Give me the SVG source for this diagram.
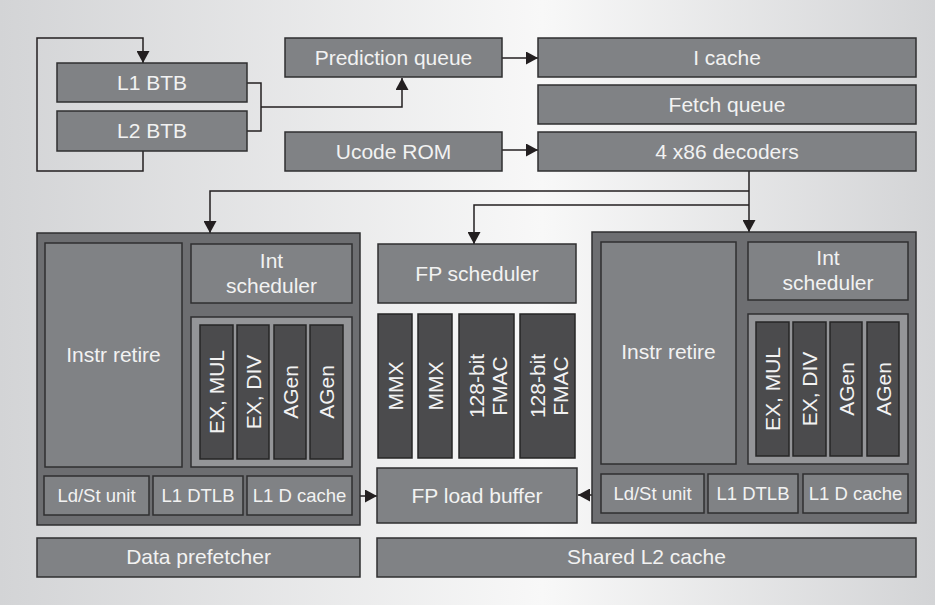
<svg xmlns="http://www.w3.org/2000/svg" width="935" height="605" viewBox="0 0 935 605">
<defs>
<linearGradient id="bg" x1="0" y1="0" x2="1" y2="0">
<stop offset="0" stop-color="#d3d4d6"/>
<stop offset="0.58" stop-color="#f8f8f8"/>
<stop offset="1" stop-color="#d3d4d6"/>
</linearGradient>
<marker id="ah" viewBox="0 0 12 13" refX="12" refY="6.5" markerWidth="12" markerHeight="13" markerUnits="userSpaceOnUse" orient="auto">
<path d="M0,0 L12,6.5 L0,13 z" fill="#231f20"/>
</marker>
<style>
.box{fill:#808285;stroke:#2f2f30;stroke-width:1.5}
.big{fill:#6d6e71;stroke:#2f2f30;stroke-width:1.5}
.exec{fill:#949598;stroke:#2f2f30;stroke-width:1.5}
.unit{fill:#4b4b4d;stroke:#262626;stroke-width:1.5}
.t{font-family:"Liberation Sans",Arial,sans-serif;font-size:21px;fill:#f2f2f2;text-anchor:middle}
.s{font-size:18.5px}
.wire{fill:none;stroke:#231f20;stroke-width:1.5}
.arr{marker-end:url(#ah)}
</style>
</defs>
<rect x="0" y="0" width="935" height="605" fill="url(#bg)"/>

<g id="connectors">
<path class="wire arr" d="M143,151 V171 H37 V38 H143 V63"/>
<path class="wire" d="M247,83 H261 V131 H247"/>
<path class="wire arr" d="M261,107 H402 V78"/>
<path class="wire arr" d="M502,58 H538"/>
<path class="wire arr" d="M502,150 H538"/>
<path class="wire arr" d="M749,171 V232"/>
<path class="wire arr" d="M749,191 H210 V233"/>
<path class="wire arr" d="M749,205 H474 V244"/>
<path class="wire arr" d="M352,496 H377"/>
<path class="wire arr" d="M601,495 H578"/>
</g>

<g id="l1btb"><rect class="box" x="57" y="63" width="190" height="39"/><text class="t" x="152" y="90">L1 BTB</text></g>
<g id="l2btb"><rect class="box" x="57" y="111" width="190" height="40"/><text class="t" x="152" y="138">L2 BTB</text></g>
<g id="predq"><rect class="box" x="285" y="38" width="217" height="39"/><text class="t" x="393.5" y="65">Prediction queue</text></g>
<g id="ucode"><rect class="box" x="285" y="132" width="217" height="39"/><text class="t" x="393.5" y="159">Ucode ROM</text></g>
<g id="icache"><rect class="box" x="538" y="38" width="378" height="39"/><text class="t" x="727" y="65">I cache</text></g>
<g id="fetchq"><rect class="box" x="538" y="85" width="378" height="39"/><text class="t" x="727" y="112">Fetch queue</text></g>
<g id="decoders"><rect class="box" x="538" y="132" width="378" height="39"/><text class="t" x="727" y="159">4 x86 decoders</text></g>

<g id="coreL">
<rect class="big" x="37" y="233" width="323" height="292"/>
<g id="retireL"><rect class="box" x="45" y="243" width="137" height="224"/><text class="t" x="113.5" y="362">Instr retire</text></g>
<g id="intschedL"><rect class="box" x="191" y="244" width="161" height="59"/><text class="t" x="271.5" y="268">Int</text><text class="t" x="271.5" y="293">scheduler</text></g>
<g id="execL">
<rect class="exec" x="191" y="317" width="161" height="150"/>
<rect class="unit" x="200" y="325" width="33" height="134"/>
<rect class="unit" x="237" y="325" width="32" height="134"/>
<rect class="unit" x="274" y="325" width="32" height="134"/>
<rect class="unit" x="310" y="325" width="33" height="134"/>
<text class="t" transform="translate(224,392) rotate(-90)">EX, MUL</text>
<text class="t" transform="translate(260.5,392) rotate(-90)">EX, DIV</text>
<text class="t" transform="translate(297.5,392) rotate(-90)">AGen</text>
<text class="t" transform="translate(334,392) rotate(-90)">AGen</text>
</g>
<g id="ldstL"><rect class="box" x="44" y="476" width="105" height="39"/><text class="t s" x="96.5" y="502">Ld/St unit</text></g>
<g id="dtlbL"><rect class="box" x="153" y="476" width="90" height="39"/><text class="t s" x="198" y="502">L1 DTLB</text></g>
<g id="dcacheL"><rect class="box" x="247" y="476" width="105" height="39"/><text class="t s" x="299.5" y="502">L1 D cache</text></g>
</g>

<g id="prefetch"><rect class="box" x="37" y="538" width="323" height="39"/><text class="t" x="198.5" y="564">Data prefetcher</text></g>

<g id="fp">
<g id="fpsched"><rect class="box" x="378" y="244" width="198" height="59"/><text class="t" x="477" y="281">FP scheduler</text></g>
<rect class="unit" x="378" y="314" width="34" height="144"/>
<rect class="unit" x="418" y="314" width="34" height="144"/>
<rect class="unit" x="459" y="314" width="55" height="144"/>
<rect class="unit" x="520" y="314" width="55" height="144"/>
<text class="t" transform="translate(402.5,386) rotate(-90)">MMX</text>
<text class="t" transform="translate(442.5,386) rotate(-90)">MMX</text>
<text class="t" transform="translate(484,386) rotate(-90)">128-bit</text>
<text class="t" transform="translate(507,386) rotate(-90)">FMAC</text>
<text class="t" transform="translate(545,386) rotate(-90)">128-bit</text>
<text class="t" transform="translate(568,386) rotate(-90)">FMAC</text>
<g id="fpload"><rect class="box" x="377" y="468" width="200" height="55"/><text class="t" x="477" y="503">FP load buffer</text></g>
</g>

<g id="coreR">
<rect class="big" x="592" y="232" width="324" height="291"/>
<g id="retireR"><rect class="box" x="601" y="242" width="135" height="222"/><text class="t" x="668.5" y="359">Instr retire</text></g>
<g id="intschedR"><rect class="box" x="748" y="242" width="160" height="58"/><text class="t" x="828" y="265">Int</text><text class="t" x="828" y="290">scheduler</text></g>
<g id="execR">
<rect class="exec" x="748" y="314" width="160" height="150"/>
<rect class="unit" x="756" y="322" width="33" height="134"/>
<rect class="unit" x="793" y="322" width="33" height="134"/>
<rect class="unit" x="830" y="322" width="32" height="134"/>
<rect class="unit" x="867" y="322" width="32" height="134"/>
<text class="t" transform="translate(780,389) rotate(-90)">EX, MUL</text>
<text class="t" transform="translate(817,389) rotate(-90)">EX, DIV</text>
<text class="t" transform="translate(853.5,389) rotate(-90)">AGen</text>
<text class="t" transform="translate(890.5,389) rotate(-90)">AGen</text>
</g>
<g id="ldstR"><rect class="box" x="601" y="474" width="103" height="39"/><text class="t s" x="652.5" y="500">Ld/St unit</text></g>
<g id="dtlbR"><rect class="box" x="708" y="474" width="90" height="39"/><text class="t s" x="753" y="500">L1 DTLB</text></g>
<g id="dcacheR"><rect class="box" x="803" y="474" width="105" height="39"/><text class="t s" x="855.5" y="500">L1 D cache</text></g>
</g>

<g id="l2cache"><rect class="box" x="377" y="538" width="539" height="39"/><text class="t" x="646.5" y="564">Shared L2 cache</text></g>
</svg>
